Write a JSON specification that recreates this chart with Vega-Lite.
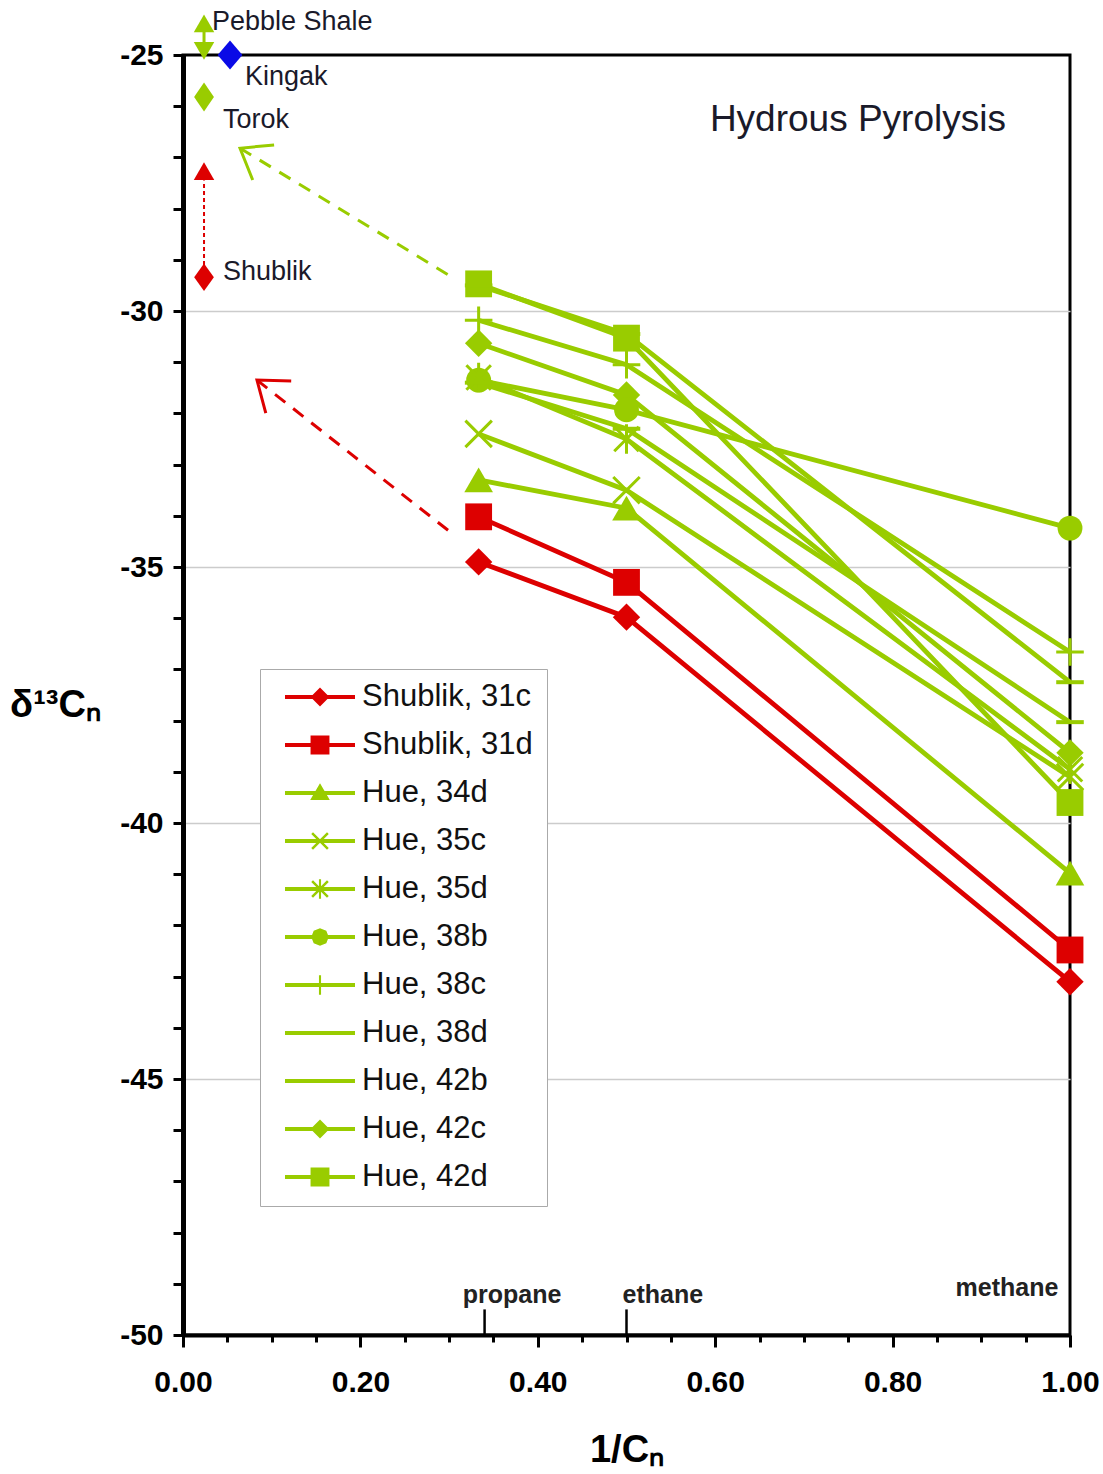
{
  "$schema": "https://vega.github.io/schema/vega-lite/v6.json",
  "width": 887,
  "height": 1280,
  "autosize": {"type": "none"},
  "padding": {"left": 183, "top": 55, "right": 33, "bottom": 139},
  "background": "white",
  "config": {"view": {"stroke": "#000", "strokeWidth": 3}, "font": "Liberation Sans"},
  "datasets": {
    "series": [
      {"series": "Shublik, 31c", "x": 0.3333, "y": -34.9}, {"series": "Shublik, 31c", "x": 0.5, "y": -35.98}, {"series": "Shublik, 31c", "x": 1.0, "y": -43.1},
      {"series": "Shublik, 31d", "x": 0.3333, "y": -34.02}, {"series": "Shublik, 31d", "x": 0.5, "y": -35.3}, {"series": "Shublik, 31d", "x": 1.0, "y": -42.48},
      {"series": "Hue, 34d", "x": 0.3333, "y": -33.3}, {"series": "Hue, 34d", "x": 0.5, "y": -33.85}, {"series": "Hue, 34d", "x": 1.0, "y": -40.98},
      {"series": "Hue, 35c", "x": 0.3333, "y": -32.4}, {"series": "Hue, 35c", "x": 0.5, "y": -33.5}, {"series": "Hue, 35c", "x": 1.0, "y": -39.1},
      {"series": "Hue, 35d", "x": 0.3333, "y": -31.3}, {"series": "Hue, 35d", "x": 0.5, "y": -32.5}, {"series": "Hue, 35d", "x": 1.0, "y": -38.95},
      {"series": "Hue, 38b", "x": 0.3333, "y": -31.35}, {"series": "Hue, 38b", "x": 0.5, "y": -31.93}, {"series": "Hue, 38b", "x": 1.0, "y": -34.24},
      {"series": "Hue, 38c", "x": 0.3333, "y": -30.18}, {"series": "Hue, 38c", "x": 0.5, "y": -31.05}, {"series": "Hue, 38c", "x": 1.0, "y": -36.66},
      {"series": "Hue, 38d", "x": 0.3333, "y": -29.5}, {"series": "Hue, 38d", "x": 0.5, "y": -30.45}, {"series": "Hue, 38d", "x": 1.0, "y": -37.25},
      {"series": "Hue, 42b", "x": 0.3333, "y": -31.4}, {"series": "Hue, 42b", "x": 0.5, "y": -32.3}, {"series": "Hue, 42b", "x": 1.0, "y": -38.03},
      {"series": "Hue, 42c", "x": 0.3333, "y": -30.63}, {"series": "Hue, 42c", "x": 0.5, "y": -31.64}, {"series": "Hue, 42c", "x": 1.0, "y": -38.63},
      {"series": "Hue, 42d", "x": 0.3333, "y": -29.47}, {"series": "Hue, 42d", "x": 0.5, "y": -30.53}, {"series": "Hue, 42d", "x": 1.0, "y": -39.6}
    ],
    "sites": [
      {"site": "Pebble up", "x": 0.0237, "y": -24.38},
      {"site": "Pebble down", "x": 0.0237, "y": -24.92},
      {"site": "Kingak", "x": 0.053, "y": -25.0},
      {"site": "Torok", "x": 0.0237, "y": -25.82},
      {"site": "Shublik", "x": 0.0237, "y": -29.34},
      {"site": "Shublik head", "x": 0.0237, "y": -27.27}
    ],
    "segments": [
      {"seg": "pebble", "x": 0.0237, "y": -24.45}, {"seg": "pebble", "x": 0.0237, "y": -24.85},
      {"seg": "shublik", "x": 0.0237, "y": -29.1}, {"seg": "shublik", "x": 0.0237, "y": -27.45},
      {"seg": "green", "x": 0.3067, "y": -29.375}, {"seg": "green", "x": 0.0643, "y": -26.82},
      {"seg": "red", "x": 0.3067, "y": -34.39}, {"seg": "red", "x": 0.0834, "y": -31.35}
    ],
    "heads": [
      {"head": "green", "x": 0.0643, "y": -26.82},
      {"head": "red", "x": 0.0834, "y": -31.35}
    ],
    "siteLabels": [
      {"text": "Pebble Shale", "x": 0.0327, "y": -24.355},
      {"text": "Kingak", "x": 0.0699, "y": -25.43},
      {"text": "Torok", "x": 0.0451, "y": -26.27},
      {"text": "Shublik", "x": 0.0451, "y": -29.23}
    ],
    "gasLabels": [
      {"text": "propane", "x": 0.371, "y": -49.22},
      {"text": "ethane", "x": 0.541, "y": -49.22},
      {"text": "methane", "x": 0.929, "y": -49.08}
    ],
    "gasTicks": [
      {"gas": "propane", "x": 0.34, "y": -50, "y2": -49.5},
      {"gas": "ethane", "x": 0.5, "y": -50, "y2": -49.5}
    ],
    "heading": [
      {"text": "Hydrous Pyrolysis", "x": 0.594, "y": -26.27}
    ]
  },
  "encoding": {
    "x": {
      "field": "x", "type": "quantitative",
      "scale": {"domain": [0, 1], "nice": false, "zero": false},
      "axis": {
        "title": "1/Cₙ",
        "values": [0, 0.05, 0.1, 0.15, 0.2, 0.25, 0.3, 0.35, 0.4, 0.45, 0.5, 0.55, 0.6, 0.65, 0.7, 0.75, 0.8, 0.85, 0.9, 0.95, 1.0],
        "labelExpr": "abs(datum.value*5 - round(datum.value*5)) < 0.001 ? format(datum.value, '.2f') : ''",
        "grid": false,
        "domainColor": "#000", "domainWidth": 4,
        "tickColor": "#000", "tickWidth": 3,
        "tickSize": {"condition": {"test": "abs(datum.value*5 - round(datum.value*5)) < 0.001", "value": 12}, "value": 7},
        "labelFont": "Liberation Sans", "labelFontSize": 30, "labelFontWeight": "bold", "labelColor": "#000",
        "labelPadding": 20, "labelOverlap": false, "labelFlush": false, "labelBound": false,
        "titleFont": "Liberation Sans", "titleFontSize": 38, "titleFontWeight": "bold", "titleColor": "#000",
        "titleY": 115, "titleBaseline": "middle"
      }
    },
    "y": {
      "field": "y", "type": "quantitative",
      "scale": {"domain": [-50, -25], "nice": false, "zero": false},
      "axis": {
        "title": "δ¹³Cₙ",
        "values": [-50, -49, -48, -47, -46, -45, -44, -43, -42, -41, -40, -39, -38, -37, -36, -35, -34, -33, -32, -31, -30, -29, -28, -27, -26, -25],
        "labelExpr": "datum.value % 5 == 0 ? '-' + abs(datum.value) : ''",
        "grid": true, "gridColor": "#cccccc", "gridWidth": 1.5,
        "gridOpacity": {"condition": {"test": "datum.value % 5 == 0 && datum.value > -50 && datum.value < -25", "value": 1}, "value": 0},
        "domainColor": "#000", "domainWidth": 5,
        "tickColor": "#000", "tickWidth": 3, "tickSize": 10,
        "labelFont": "Liberation Sans", "labelFontSize": 30, "labelFontWeight": "bold", "labelColor": "#000",
        "labelPadding": 10, "labelOverlap": false, "labelBound": false,
        "titleFont": "Liberation Sans", "titleFontSize": 38, "titleFontWeight": "bold", "titleColor": "#000",
        "titleAngle": 0, "titleX": -128, "titleY": 650, "titleAlign": "center", "titleBaseline": "middle"
      }
    }
  },
  "layer": [
    {
      "data": {"name": "series"},
      "mark": {"type": "line", "strokeWidth": 4.8},
      "encoding": {
        "stroke": {"field": "series", "type": "nominal",
          "scale": {"domain": ["Hue, 34d", "Hue, 35c", "Hue, 35d", "Hue, 38b", "Hue, 38c", "Hue, 38d", "Hue, 42b", "Hue, 42c", "Hue, 42d", "Shublik, 31c", "Shublik, 31d"],
                    "range": ["#99cc00", "#99cc00", "#99cc00", "#99cc00", "#99cc00", "#99cc00", "#99cc00", "#99cc00", "#99cc00", "#dd0000", "#dd0000"]},
          "legend": null}
      }
    },
    {
      "data": {"name": "series"},
      "transform": [{"filter": "datum.series == 'Shublik, 31c' || datum.series == 'Hue, 42c'"}],
      "mark": {"type": "point", "shape": "diamond", "filled": true, "size": 750, "opacity": 1},
      "encoding": {"fill": {"field": "series", "type": "nominal",
          "scale": {"domain": ["Shublik, 31d", "Shublik, 31c", "Hue, 34d", "Hue, 35c", "Hue, 35d", "Hue, 38b", "Hue, 38c", "Hue, 38d", "Hue, 42b", "Hue, 42c", "Hue, 42d"],
                    "range": ["#dd0000", "#dd0000", "#99cc00", "#99cc00", "#99cc00", "#99cc00", "#99cc00", "#99cc00", "#99cc00", "#99cc00", "#99cc00"]},
          "legend": null}}
    },
    {
      "data": {"name": "series"},
      "transform": [{"filter": "datum.series == 'Shublik, 31d' || datum.series == 'Hue, 42d'"}],
      "mark": {"type": "point", "shape": "square", "filled": true, "size": 720, "opacity": 1},
      "encoding": {"fill": {"field": "series", "type": "nominal", "legend": null}}
    },
    {
      "data": {"name": "series"},
      "transform": [{"filter": "datum.series == 'Hue, 34d'"}],
      "mark": {"type": "point", "shape": "triangle-up", "filled": true, "size": 820, "opacity": 1},
      "encoding": {"fill": {"field": "series", "type": "nominal", "legend": null}}
    },
    {
      "data": {"name": "series"},
      "transform": [{"filter": "datum.series == 'Hue, 38b'"}],
      "mark": {"type": "point", "shape": "circle", "filled": true, "size": 620, "opacity": 1},
      "encoding": {"fill": {"field": "series", "type": "nominal", "legend": null}}
    },
    {
      "data": {"name": "series"},
      "transform": [{"filter": "datum.series == 'Hue, 35c'"}],
      "mark": {"type": "point", "shape": "M-1,-1L1,1M1,-1L-1,1", "filled": false, "strokeWidth": 3, "size": 700, "opacity": 1},
      "encoding": {"stroke": {"field": "series", "type": "nominal", "legend": null}}
    },
    {
      "data": {"name": "series"},
      "transform": [{"filter": "datum.series == 'Hue, 35d'"}],
      "mark": {"type": "point", "shape": "M-1,-1L1,1M1,-1L-1,1M0,-1.2L0,1.2", "filled": false, "strokeWidth": 3, "size": 600, "opacity": 1},
      "encoding": {"stroke": {"field": "series", "type": "nominal", "legend": null}}
    },
    {
      "data": {"name": "series"},
      "transform": [{"filter": "datum.series == 'Hue, 38c'"}],
      "mark": {"type": "point", "shape": "M-1,0L1,0M0,-1L0,1", "filled": false, "strokeWidth": 3, "size": 760, "opacity": 1},
      "encoding": {"stroke": {"field": "series", "type": "nominal", "legend": null}}
    },
    {
      "data": {"name": "series"},
      "transform": [{"filter": "datum.series == 'Hue, 38d' || datum.series == 'Hue, 42b'"}],
      "mark": {"type": "point", "shape": "M-1,0L1,0", "filled": false, "strokeWidth": 4, "size": 760, "opacity": 1},
      "encoding": {"stroke": {"field": "series", "type": "nominal", "legend": null}}
    },
    {
      "data": {"name": "series"},
      "mark": {"type": "point", "filled": true, "opacity": 0, "size": 100},
      "encoding": {
        "color": {"field": "series", "type": "nominal",
          "scale": {"domain": ["Shublik, 31c", "Shublik, 31d", "Hue, 34d", "Hue, 35c", "Hue, 35d", "Hue, 38b", "Hue, 38c", "Hue, 38d", "Hue, 42b", "Hue, 42c", "Hue, 42d"],
                    "range": ["#dd0000", "#dd0000", "#99cc00", "#99cc00", "#99cc00", "#99cc00", "#99cc00", "#99cc00", "#99cc00", "#99cc00", "#99cc00"]},
          "legend": {"orient": "none", "legendX": 77, "legendY": 614, "title": null, "labelFont": "Liberation Sans", "labelFontSize": 31, "labelColor": "#111", "labelLimit": 400, "symbolSize": 4900, "symbolStrokeWidth": 0, "symbolOpacity": 1, "symbolOffset": 11, "clipHeight": 28, "strokeColor": "#aaaaaa", "fillColor": "#fff", "padding": 14, "rowPadding": 17, "labelOffset": 7}},
        "shape": {"field": "series", "type": "nominal",
          "scale": {"domain": ["Shublik, 31c", "Shublik, 31d", "Hue, 34d", "Hue, 35c", "Hue, 35d", "Hue, 38b", "Hue, 38c", "Hue, 38d", "Hue, 42b", "Hue, 42c", "Hue, 42d"],
                    "range": [
                      "M-1,-0.057H1V0.057H-1Z M0,-0.27L0.27,0L0,0.27L-0.27,0Z",
                      "M-1,-0.057H1V0.057H-1Z M-0.27,-0.27H0.27V0.27H-0.27Z",
                      "M-1,-0.057H1V0.057H-1Z M0,-0.28L0.28,0.2H-0.28Z",
                      "M-1,-0.057H1V0.057H-1Z M-0.25,-0.2L-0.2,-0.25L0.25,0.2L0.2,0.25Z M0.2,-0.25L0.25,-0.2L-0.2,0.25L-0.25,0.2Z",
                      "M-1,-0.057H1V0.057H-1Z M-0.25,-0.2L-0.2,-0.25L0.25,0.2L0.2,0.25Z M0.2,-0.25L0.25,-0.2L-0.2,0.25L-0.25,0.2Z M-0.03,-0.28H0.03V0.28H-0.03Z",
                      "M-1,-0.057H1V0.057H-1Z M-0.25,0L-0.18,-0.18L0,-0.25L0.18,-0.18L0.25,0L0.18,0.18L0,0.25L-0.18,0.18Z",
                      "M-1,-0.057H1V0.057H-1Z M-0.03,-0.28H0.03V0.28H-0.03Z",
                      "M-1,-0.057H1V0.057H-1Z",
                      "M-1,-0.057H1V0.057H-1Z",
                      "M-1,-0.057H1V0.057H-1Z M0,-0.27L0.27,0L0,0.27L-0.27,0Z",
                      "M-1,-0.057H1V0.057H-1Z M-0.27,-0.27H0.27V0.27H-0.27Z"
                    ]},
          "legend": {"orient": "none", "legendX": 77, "legendY": 614, "title": null, "labelFont": "Liberation Sans", "labelFontSize": 31, "labelColor": "#111", "labelLimit": 400, "symbolSize": 4900, "symbolStrokeWidth": 0, "symbolOpacity": 1, "symbolOffset": 11, "clipHeight": 28, "strokeColor": "#aaaaaa", "fillColor": "#fff", "padding": 14, "rowPadding": 17, "labelOffset": 7}}
      }
    },
    {
      "data": {"name": "segments"},
      "transform": [{"filter": "datum.seg == 'pebble'"}],
      "mark": {"type": "line", "color": "#99cc00", "strokeWidth": 3},
      "encoding": {}
    },
    {
      "data": {"name": "segments"},
      "transform": [{"filter": "datum.seg == 'shublik'"}],
      "mark": {"type": "line", "color": "#dd0000", "strokeWidth": 2, "strokeDash": [4, 3]},
      "encoding": {}
    },
    {
      "data": {"name": "segments"},
      "transform": [{"filter": "datum.seg == 'green'"}],
      "mark": {"type": "line", "color": "#99cc00", "strokeWidth": 3, "strokeDash": [13, 10]},
      "encoding": {}
    },
    {
      "data": {"name": "segments"},
      "transform": [{"filter": "datum.seg == 'red'"}],
      "mark": {"type": "line", "color": "#dd0000", "strokeWidth": 3, "strokeDash": [13, 10]},
      "encoding": {}
    },
    {
      "data": {"name": "heads"},
      "transform": [{"filter": "datum.head == 'green'"}],
      "mark": {"type": "point", "shape": "M-1,-0.75L0,0L-1,0.75", "filled": false, "color": "#99cc00", "strokeWidth": 3, "size": 3000, "angle": 211.4, "opacity": 1}
    },
    {
      "data": {"name": "heads"},
      "transform": [{"filter": "datum.head == 'red'"}],
      "mark": {"type": "point", "shape": "M-1,-0.75L0,0L-1,0.75", "filled": false, "color": "#dd0000", "strokeWidth": 3, "size": 3000, "angle": 218.2, "opacity": 1}
    },
    {
      "data": {"name": "sites"},
      "transform": [{"filter": "datum.site == 'Pebble up'"}],
      "mark": {"type": "point", "shape": "triangle-up", "filled": true, "color": "#99cc00", "size": 420, "opacity": 1}
    },
    {
      "data": {"name": "sites"},
      "transform": [{"filter": "datum.site == 'Pebble down'"}],
      "mark": {"type": "point", "shape": "triangle-down", "filled": true, "color": "#99cc00", "size": 420, "opacity": 1}
    },
    {
      "data": {"name": "sites"},
      "transform": [{"filter": "datum.site == 'Torok'"}],
      "mark": {"type": "point", "shape": "M0,-1L0.68,0L0,1L-0.68,0Z", "filled": true, "color": "#99cc00", "size": 850, "opacity": 1}
    },
    {
      "data": {"name": "sites"},
      "transform": [{"filter": "datum.site == 'Shublik'"}],
      "mark": {"type": "point", "shape": "M0,-1L0.72,0L0,1L-0.72,0Z", "filled": true, "color": "#dd0000", "size": 750, "opacity": 1}
    },
    {
      "data": {"name": "sites"},
      "transform": [{"filter": "datum.site == 'Shublik head'"}],
      "mark": {"type": "point", "shape": "triangle-up", "filled": true, "color": "#dd0000", "size": 420, "opacity": 1}
    },
    {
      "data": {"name": "sites"},
      "transform": [{"filter": "datum.site == 'Kingak'"}],
      "mark": {"type": "point", "shape": "M0,-1L0.85,0L0,1L-0.85,0Z", "filled": true, "color": "#0a0ae6", "size": 850, "opacity": 1}
    },
    {
      "data": {"name": "gasTicks"},
      "mark": {"type": "rule", "color": "#000", "strokeWidth": 2.5},
      "encoding": {"y2": {"field": "y2"}}
    },
    {
      "data": {"name": "siteLabels"},
      "mark": {"type": "text", "align": "left", "baseline": "middle", "font": "Liberation Sans", "fontSize": 27, "color": "#1a1a2a"},
      "encoding": {"text": {"field": "text"}}
    },
    {
      "data": {"name": "gasLabels"},
      "mark": {"type": "text", "align": "center", "baseline": "middle", "font": "Liberation Sans", "fontSize": 25, "fontWeight": "bold", "color": "#222"},
      "encoding": {"text": {"field": "text"}}
    },
    {
      "data": {"name": "heading"},
      "mark": {"type": "text", "align": "left", "baseline": "middle", "font": "Liberation Sans", "fontSize": 37, "color": "#1a1a2a"},
      "encoding": {"text": {"field": "text"}}
    }
  ]
}
